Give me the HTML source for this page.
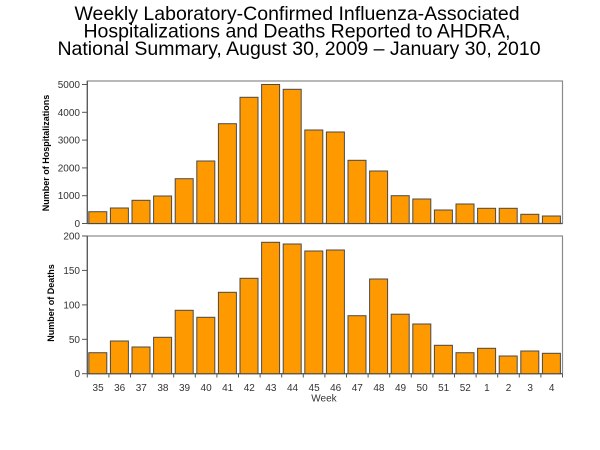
<!DOCTYPE html>
<html><head><meta charset="utf-8"><style>
html,body{margin:0;padding:0;background:#fff;}
svg{display:block;}
</style></head><body>
<svg width="600" height="450" viewBox="0 0 600 450" xmlns="http://www.w3.org/2000/svg" font-family="Liberation Sans, Arial, sans-serif">
<rect width="600" height="450" fill="#fff"/>
<g font-size="19.5" fill="#000" text-anchor="middle">
<text x="297" y="20">Weekly Laboratory-Confirmed Influenza-Associated</text>
<text x="297" y="37.5">Hospitalizations and Deaths Reported to AHDRA,</text>
<text x="299" y="55">National Summary, August 30, 2009 – January 30, 2010</text>
</g>
<!-- top chart frame -->
<rect x="87.3" y="81" width="475.2" height="142.5" fill="none" stroke="#8a8a8a" stroke-width="1.2"/>
<line x1="87.3" y1="81" x2="87.3" y2="223.5" stroke="#555" stroke-width="1.2"/>
<line x1="87.3" y1="223.5" x2="562.5" y2="223.5" stroke="#555" stroke-width="1.2"/>
<!-- bottom chart frame -->
<rect x="87.3" y="236" width="475.2" height="137.7" fill="none" stroke="#8a8a8a" stroke-width="1.2"/>
<line x1="87.3" y1="236" x2="87.3" y2="373.7" stroke="#555" stroke-width="1.2"/>
<line x1="87.3" y1="373.7" x2="562.5" y2="373.7" stroke="#555" stroke-width="1.2"/>

<g id="bars" fill="#FF9900" stroke="#4a4a4a" stroke-width="1">
<!-- top bars: tops -->
<rect x="88.8" y="211.7" width="18" height="11.8"/>
<rect x="110.4" y="208" width="18" height="15.5"/>
<rect x="132" y="200.3" width="18" height="23.2"/>
<rect x="153.6" y="196" width="18" height="27.5"/>
<rect x="175.2" y="178.7" width="18" height="44.8"/>
<rect x="196.8" y="161" width="18" height="62.5"/>
<rect x="218.4" y="123.7" width="18" height="99.8"/>
<rect x="240" y="97.3" width="18" height="126.2"/>
<rect x="261.6" y="84.5" width="18" height="139"/>
<rect x="283.2" y="89.3" width="18" height="134.2"/>
<rect x="304.8" y="130" width="18" height="93.5"/>
<rect x="326.4" y="132" width="18" height="91.5"/>
<rect x="348" y="160.3" width="18" height="63.2"/>
<rect x="369.6" y="171" width="18" height="52.5"/>
<rect x="391.2" y="195.7" width="18" height="27.8"/>
<rect x="412.8" y="199" width="18" height="24.5"/>
<rect x="434.4" y="210" width="18" height="13.5"/>
<rect x="456" y="204" width="18" height="19.5"/>
<rect x="477.6" y="208.3" width="18" height="15.2"/>
<rect x="499.2" y="208.3" width="18" height="15.2"/>
<rect x="520.8" y="214.3" width="18" height="9.2"/>
<rect x="542.4" y="216" width="18" height="7.5"/>
<!-- bottom bars -->
<rect x="88.8" y="352.7" width="18" height="21"/>
<rect x="110.4" y="341" width="18" height="32.7"/>
<rect x="132" y="347" width="18" height="26.7"/>
<rect x="153.6" y="337.3" width="18" height="36.4"/>
<rect x="175.2" y="310.3" width="18" height="63.4"/>
<rect x="196.8" y="317.3" width="18" height="56.4"/>
<rect x="218.4" y="292.3" width="18" height="81.4"/>
<rect x="240" y="278.3" width="18" height="95.4"/>
<rect x="261.6" y="242.3" width="18" height="131.4"/>
<rect x="283.2" y="244" width="18" height="129.7"/>
<rect x="304.8" y="251" width="18" height="122.7"/>
<rect x="326.4" y="250" width="18" height="123.7"/>
<rect x="348" y="315.7" width="18" height="58"/>
<rect x="369.6" y="279" width="18" height="94.7"/>
<rect x="391.2" y="314.2" width="18" height="59.5"/>
<rect x="412.8" y="324" width="18" height="49.7"/>
<rect x="434.4" y="345.3" width="18" height="28.4"/>
<rect x="456" y="352.7" width="18" height="21"/>
<rect x="477.6" y="348.3" width="18" height="25.4"/>
<rect x="499.2" y="356" width="18" height="17.7"/>
<rect x="520.8" y="351" width="18" height="22.7"/>
<rect x="542.4" y="353.3" width="18" height="20.4"/>
</g>

<!-- y ticks -->
<g stroke="#555" stroke-width="1">
<line x1="82" y1="223.5" x2="87.3" y2="223.5"/>
<line x1="82" y1="195.7" x2="87.3" y2="195.7"/>
<line x1="82" y1="167.9" x2="87.3" y2="167.9"/>
<line x1="82" y1="140.1" x2="87.3" y2="140.1"/>
<line x1="82" y1="112.3" x2="87.3" y2="112.3"/>
<line x1="82" y1="84.5" x2="87.3" y2="84.5"/>
<line x1="82" y1="373.7" x2="87.3" y2="373.7"/>
<line x1="82" y1="339.3" x2="87.3" y2="339.3"/>
<line x1="82" y1="304.9" x2="87.3" y2="304.9"/>
<line x1="82" y1="270.4" x2="87.3" y2="270.4"/>
<line x1="82" y1="236" x2="87.3" y2="236"/>
</g>
<g font-size="10" fill="#333" text-anchor="end">
<text x="80" y="227">0</text>
<text x="80" y="199.2">1000</text>
<text x="80" y="171.4">2000</text>
<text x="80" y="143.6">3000</text>
<text x="80" y="115.8">4000</text>
<text x="80" y="88">5000</text>
<text x="80" y="377.2">0</text>
<text x="80" y="342.8">50</text>
<text x="80" y="308.4">100</text>
<text x="80" y="273.9">150</text>
<text x="80" y="239.5">200</text>
</g>
<!-- x ticks -->
<g stroke="#555" stroke-width="1">
<line x1="87.3" y1="373.7" x2="87.3" y2="377.5"/><line x1="108.9" y1="373.7" x2="108.9" y2="377.5"/><line x1="130.5" y1="373.7" x2="130.5" y2="377.5"/><line x1="152.1" y1="373.7" x2="152.1" y2="377.5"/><line x1="173.7" y1="373.7" x2="173.7" y2="377.5"/><line x1="195.3" y1="373.7" x2="195.3" y2="377.5"/><line x1="216.9" y1="373.7" x2="216.9" y2="377.5"/><line x1="238.5" y1="373.7" x2="238.5" y2="377.5"/><line x1="260.1" y1="373.7" x2="260.1" y2="377.5"/><line x1="281.7" y1="373.7" x2="281.7" y2="377.5"/><line x1="303.3" y1="373.7" x2="303.3" y2="377.5"/><line x1="324.9" y1="373.7" x2="324.9" y2="377.5"/><line x1="346.5" y1="373.7" x2="346.5" y2="377.5"/><line x1="368.1" y1="373.7" x2="368.1" y2="377.5"/><line x1="389.7" y1="373.7" x2="389.7" y2="377.5"/><line x1="411.3" y1="373.7" x2="411.3" y2="377.5"/><line x1="432.9" y1="373.7" x2="432.9" y2="377.5"/><line x1="454.5" y1="373.7" x2="454.5" y2="377.5"/><line x1="476.1" y1="373.7" x2="476.1" y2="377.5"/><line x1="497.7" y1="373.7" x2="497.7" y2="377.5"/><line x1="519.3" y1="373.7" x2="519.3" y2="377.5"/><line x1="540.9" y1="373.7" x2="540.9" y2="377.5"/><line x1="562.5" y1="373.7" x2="562.5" y2="377.5"/>
</g>
<g font-size="10" fill="#333" text-anchor="middle">
<text x="98.1" y="391">35</text><text x="119.7" y="391">36</text><text x="141.3" y="391">37</text><text x="162.9" y="391">38</text><text x="184.5" y="391">39</text><text x="206.1" y="391">40</text><text x="227.7" y="391">41</text><text x="249.3" y="391">42</text><text x="270.9" y="391">43</text><text x="292.5" y="391">44</text><text x="314.1" y="391">45</text><text x="335.7" y="391">46</text><text x="357.3" y="391">47</text><text x="378.9" y="391">48</text><text x="400.5" y="391">49</text><text x="422.1" y="391">50</text><text x="443.7" y="391">51</text><text x="465.3" y="391">52</text><text x="486.9" y="391">1</text><text x="508.5" y="391">2</text><text x="530.1" y="391">3</text><text x="551.7" y="391">4</text>
<text x="324" y="401.5">Week</text>
</g>
<g font-size="9" font-weight="bold" fill="#000" text-anchor="middle">
<text transform="translate(49,153) rotate(-90)">Number of Hospitalizations</text>
<text transform="translate(54,303) rotate(-90)">Number of Deaths</text>
</g>
</svg>
</body></html>
